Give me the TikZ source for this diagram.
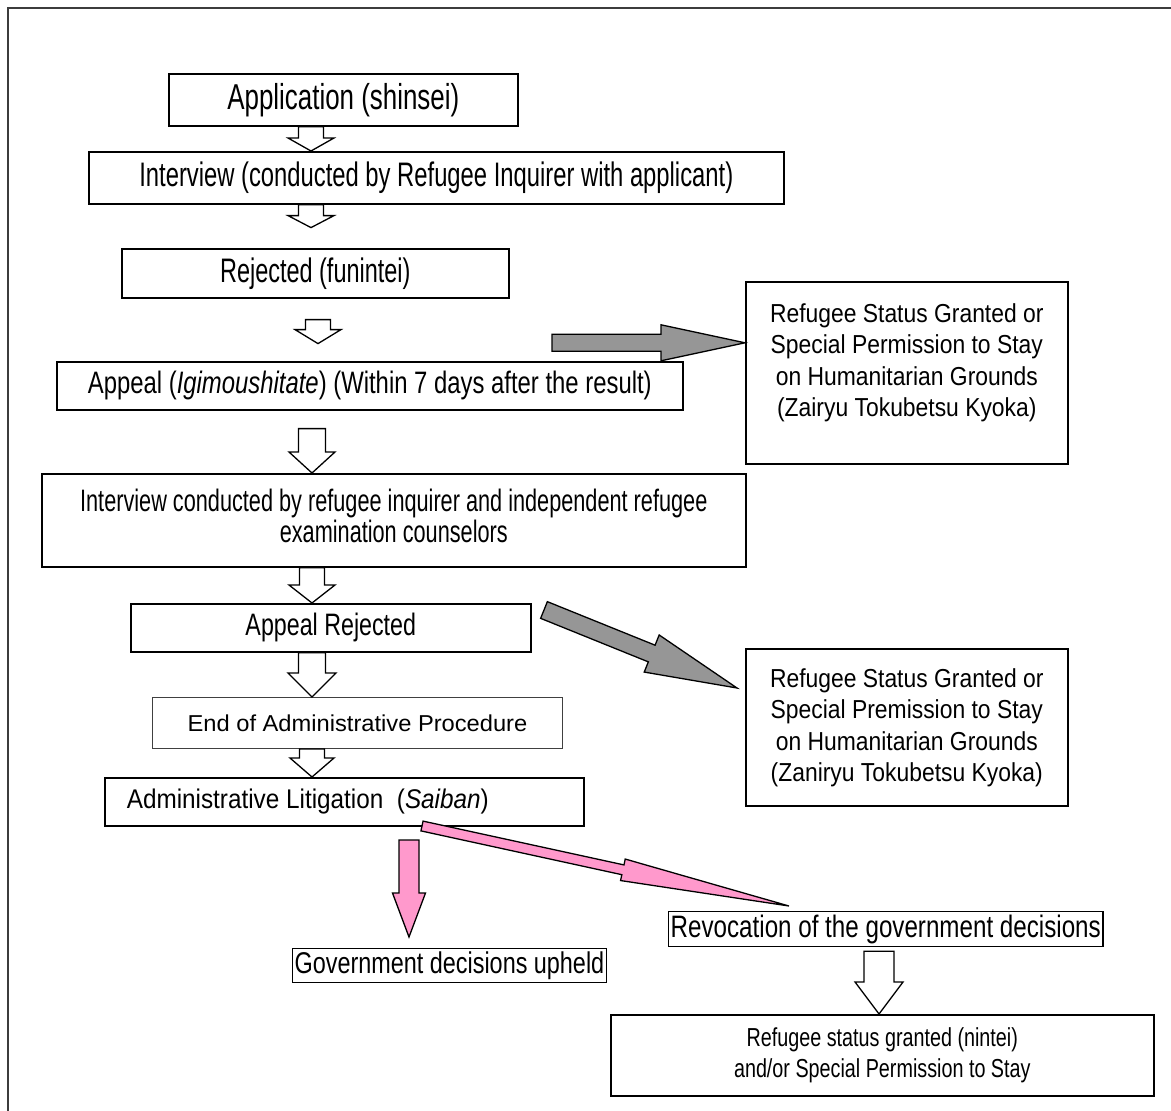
\documentclass[tikz,border=0pt]{standalone}
\usepackage{fontspec}
\usepackage{graphicx}
\setmainfont{Liberation Sans}
\usetikzlibrary{calc}
\definecolor{grayarrow}{RGB}{150,150,150}
\definecolor{pinkarrow}{RGB}{255,153,204}
\definecolor{framegray}{RGB}{60,60,60}
\newcommand\sx[2]{\scalebox{#1}[1]{#2}}
\tikzset{
  boxed/.style={draw=black, line width=1.6pt, inner sep=0pt, anchor=north west, align=center},
  hollow/.style={draw=black, fill=white, line width=1.3pt, line join=miter},
  grayfill/.style={draw=black, fill=grayarrow, line width=1.3pt, line join=miter},
  pinkfill/.style={draw=black, fill=pinkarrow, line width=1.3pt, line join=miter},
}
% block arrow: #1 style, #2 from, #3 to, #4 shaft half width, #5 head half width, #6 head length
\newcommand\blockarrow[6]{%
  \coordinate (ba-s) at #2;
  \coordinate (ba-e) at #3;
  \coordinate (ba-c) at ($(ba-e)!#6!(ba-s)$);
  \draw[#1] ($(ba-s)!#4!90:(ba-e)$) -- ($(ba-c)!#4!90:(ba-e)$) -- ($(ba-c)!#5!90:(ba-e)$)
    -- (ba-e) -- ($(ba-c)!#5!-90:(ba-e)$) -- ($(ba-c)!#4!-90:(ba-e)$) -- ($(ba-s)!#4!-90:(ba-e)$) -- cycle;
}
\begin{document}
\begin{tikzpicture}[x=1pt,y=-1pt]
\useasboundingbox[fill=white] (0,0) rectangle (1171,1111);
\draw[framegray, line width=2pt] (8,1125) -- (8,8) -- (1185,8);

% boxes
\node[boxed, minimum width=349pt, minimum height=52pt, font=\fontsize{36}{40}\selectfont] (app) at (168,73) {\sx{0.72}{Application (shinsei)}};
\node[boxed, minimum width=695pt, minimum height=52pt, font=\fontsize{34}{38}\selectfont] (int) at (88,151) {\sx{0.70}{Interview (conducted by Refugee Inquirer with applicant)}};
\node[boxed, minimum width=387pt, minimum height=49pt, font=\fontsize{34}{38}\selectfont] (rej) at (121,248) {\sx{0.69}{Rejected (funintei)}};
\node[boxed, minimum width=322pt, minimum height=182pt] (rb1) at (745,281) {};
\node[anchor=north, inner sep=0pt, font=\fontsize{26}{31.5}\selectfont] (rb1t) at ($(rb1.north)+(0,19)$) {\sx{0.88}{\begin{tabular}{@{}c@{}}Refugee Status Granted or\\Special Permission to Stay\\on Humanitarian Grounds\\(Zairyu Tokubetsu Kyoka)\end{tabular}}};
\node[boxed, minimum width=626pt, minimum height=48pt, font=\fontsize{31}{35}\selectfont] (appeal) at (56,361) {\sx{0.77}{Appeal (\textit{Igimoushitate}) (Within 7 days after the result)}};
\node[boxed, minimum width=704pt, minimum height=93pt, font=\fontsize{31}{29}\selectfont] (icon) at (41,473) {\sx{0.70}{\begin{tabular}{@{}c@{}}Interview conducted by refugee inquirer and independent refugee\\examination counselors\end{tabular}}};
\node[boxed, minimum width=400pt, minimum height=48pt, font=\fontsize{31}{35}\selectfont] (arej) at (130,603) {\sx{0.75}{Appeal Rejected}};
\node[boxed, minimum width=322pt, minimum height=157pt] (rb2) at (745,648) {};
\node[anchor=north, inner sep=0pt, font=\fontsize{26}{31.5}\selectfont] (rb2t) at ($(rb2.north)+(0,17)$) {\sx{0.88}{\begin{tabular}{@{}c@{}}Refugee Status Granted or\\Special Premission to Stay\\on Humanitarian Grounds\\(Zaniryu Tokubetsu Kyoka)\end{tabular}}};
\node[boxed, draw=black!75, line width=1pt, minimum width=410pt, minimum height=51pt, font=\fontsize{23}{27}\selectfont] (end) at (152,697) {\sx{1.03}{End of Administrative Procedure}};
\node[boxed, minimum width=479pt, minimum height=48pt, font=\fontsize{27}{31}\selectfont] (lit) at (104,777) {\makebox[479pt][l]{\hspace{22pt}\sx{0.9}{Administrative Litigation\ \ (\textit{Saiban})}}};
\node[boxed, line width=1.4pt, inner xsep=2pt, inner ysep=3pt, font=\fontsize{30}{33}\selectfont] (upheld) at (292,948) {\sx{0.78}{Government decisions upheld}};
\node[boxed, line width=1.4pt, inner xsep=2pt, inner ysep=3pt, font=\fontsize{31}{34}\selectfont] (revoc) at (668,911) {\sx{0.78}{Revocation of the government decisions}};
\node[boxed, minimum width=543pt, minimum height=81pt, font=\fontsize{26}{31}\selectfont] (granted) at (610,1014) {\sx{0.76}{\begin{tabular}{@{}c@{}}Refugee status granted (nintei)\\and/or Special Permission to Stay\end{tabular}}};

% hollow arrows
\coordinate (ax1) at (311,0);
\coordinate (ax2) at (318,0);
\coordinate (ax3) at (312,0);
\coordinate (ax4) at (879,0);
\blockarrow{hollow}{(app.south -| ax1)}{(int.north -| ax1)}{12.5pt}{23pt}{13pt}
\blockarrow{hollow}{(int.south -| ax1)}{($(int.south -| ax1)+(0,23)$)}{12.5pt}{23pt}{12pt}
\blockarrow{hollow}{($(rej.south -| ax2)+(0,21)$)}{($(rej.south -| ax2)+(0,45)$)}{12.5pt}{23pt}{14pt}
\blockarrow{hollow}{($(appeal.south -| ax3)+(0,18)$)}{(icon.north -| ax3)}{13.5pt}{23pt}{21pt}
\blockarrow{hollow}{(icon.south -| ax3)}{(arej.north -| ax3)}{12.5pt}{23pt}{18pt}
\blockarrow{hollow}{(arej.south -| ax3)}{(end.north -| ax3)}{13.5pt}{24pt}{24pt}
\blockarrow{hollow}{(end.south -| ax3)}{(lit.north -| ax3)}{12.5pt}{22pt}{19pt}
\blockarrow{hollow}{($(revoc.south -| ax4)+(0,4)$)}{(granted.north -| ax4)}{15pt}{24pt}{32pt}

% gray arrows
\blockarrow{grayfill}{($(rb1.west)+(-193,-30)$)}{($(rb1.west)+(0,-30)$)}{8.5pt}{18pt}{84pt}
\coordinate (g2s) at (544,610);
\blockarrow{grayfill}{(g2s)}{($(rb2.north west)+(-8,40)$)}{9pt}{20pt}{92pt}

% pink arrows
\coordinate (p1s) at (409,840);
\blockarrow{pinkfill}{(p1s)}{($(upheld.north west)+(117,-11)$)}{10pt}{16.5pt}{44pt}
\coordinate (p2s) at (422,826);
\blockarrow{pinkfill}{(p2s)}{($(revoc.north west)+(121,-5)$)}{5pt}{11pt}{170pt}
\end{tikzpicture}
\end{document}
